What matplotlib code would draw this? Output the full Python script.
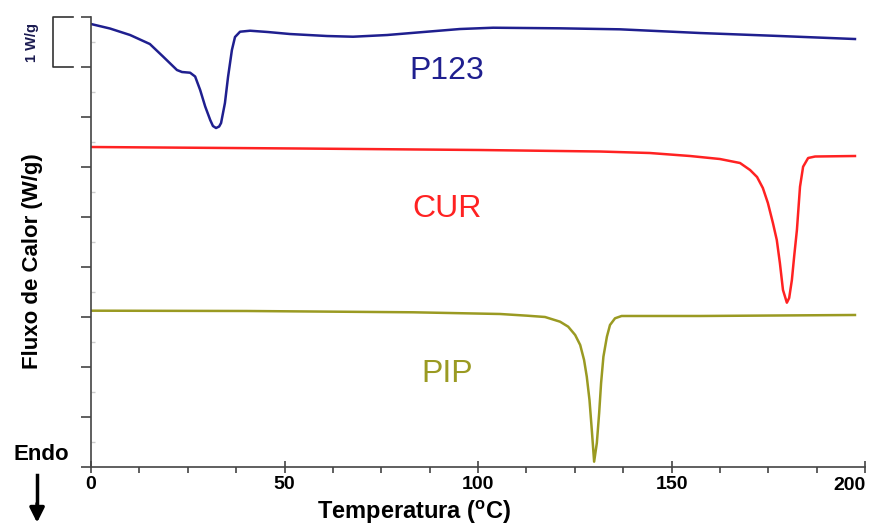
import numpy as np
import matplotlib
matplotlib.use('Agg')
import matplotlib.pyplot as plt
from matplotlib.ticker import MultipleLocator

plt.rcParams['font.family'] = ['Liberation Sans', 'DejaVu Sans']

# DSC curves (temperature in C, heat flow with offsets, W/g)
p123_t = [0, 4.9, 10.1, 15.2, 18.6, 22.2, 23.5, 25.6, 26.9, 28.2, 29.5, 30.8, 31.5,
          32.3, 33.1, 33.6, 34.6, 35.4, 36.4, 37.2, 38.5, 41.1, 45.7, 51.4, 61.0,
          67.7, 76.5, 86.8, 95.3, 103.9, 121.2, 136.7, 157.4, 178.0, 197.4]
p123_y = [8.86, 8.77, 8.64, 8.46, 8.21, 7.94, 7.90, 7.886, 7.81, 7.54, 7.21, 6.94, 6.82,
          6.78, 6.81, 6.88, 7.28, 7.80, 8.34, 8.60, 8.706, 8.726, 8.70, 8.66, 8.62,
          8.606, 8.64, 8.706, 8.76, 8.786, 8.774, 8.754, 8.68, 8.62, 8.56]

cur_t = [0, 54.0, 100.5, 131.5, 144.4, 154.8, 162.5, 165.1, 167.7, 170.3, 172.1, 173.6,
         174.9, 176.2, 177.2, 178.0, 178.8, 179.8, 180.4, 181.1, 181.7, 182.4, 183.2,
         184.0, 185.3, 187.1, 197.4]
cur_y = [6.40, 6.37, 6.34, 6.31, 6.28, 6.22, 6.16, 6.12, 6.08, 5.94, 5.80, 5.58,
         5.28, 4.88, 4.54, 4.08, 3.54, 3.286, 3.38, 3.74, 4.22, 4.74, 5.606,
         6.006, 6.18, 6.21, 6.22]

pip_t = [0, 40.3, 83.2, 105.7, 112.7, 117.3, 121.2, 123.3, 125.1, 126.4, 127.4, 128.1,
         128.8, 129.4, 130.0, 130.7, 131.3, 131.8, 132.4, 133.3, 134.1, 135.4, 137.1,
         157.4, 197.4]
pip_y = [3.126, 3.12, 3.094, 3.06, 3.026, 3.00, 2.906, 2.806, 2.64, 2.44, 2.14, 1.806,
         1.34, 0.74, 0.106, 0.48, 1.08, 1.68, 2.206, 2.606, 2.84, 2.974, 3.02,
         3.02, 3.04]

xticks = [0, 50, 100, 150, 200]
xtick_labels = ['0', '50', '100', '150', '200']

fig = plt.figure(figsize=(8.72, 5.27), dpi=100)
ax = fig.add_axes([0.1044, 0.1139, 0.8876, 0.8538])

ax.plot(p123_t, p123_y, color='#1f1f8f', lw=1.8)
ax.plot(cur_t, cur_y, color='#ff2222', lw=1.8)
ax.plot(pip_t, pip_y, color='#9a9a22', lw=1.8)

ax.text(92, 7.92, 'P123', color='#1f1f8f', fontsize=23, ha='center', va='center')
ax.text(92, 5.16, 'CUR', color='#ff2222', fontsize=23, ha='center', va='center')
ax.text(92, 1.86, 'PIP', color='#9a9a22', fontsize=23, ha='center', va='center')

ax.set_xlim(0, 200)
ax.set_ylim(0, 9)
# last label is drawn by hand, a bit left of its tick, so it stays inside the figure
ax.set_xticks(xticks, xtick_labels[:-1] + [''])
ax.annotate(xtick_labels[-1], xy=(xticks[-1], 0), xytext=(-11, -7.5),
            textcoords='offset points', ha='center', va='top',
            fontsize=14, fontweight='bold', annotation_clip=False)
ax.xaxis.set_minor_locator(MultipleLocator(12.5))
ax.yaxis.set_major_locator(MultipleLocator(1))
ax.yaxis.set_minor_locator(MultipleLocator(0.5))
ax.set_yticklabels([])
for s in ['top', 'right']:
    ax.spines[s].set_visible(False)
for s in ['left', 'bottom']:
    ax.spines[s].set_color('#444444')
    ax.spines[s].set_linewidth(1.2)
ax.tick_params(axis='x', which='major', direction='inout', length=9, width=1.2,
               color='#444444', labelsize=14, pad=2)
ax.tick_params(axis='x', which='minor', direction='out', length=4, width=1.2, color='#444444')
ax.tick_params(axis='y', which='major', direction='out', length=7, width=1.2, color='#444444')
ax.tick_params(axis='y', which='minor', direction='in', length=3, width=1, color='#cccccc')
for lab in ax.get_xticklabels():
    lab.set_fontweight('bold')

ax.set_xlabel('Temperatura ($\\mathregular{^{o}}$C)', fontsize=17, fontweight='bold')
ax.xaxis.set_label_coords(0.417, -0.1)
ax.xaxis.label.set_va('center')
ax.set_ylabel('Fluxo de Calor (W/g)', fontsize=16, fontweight='bold')
ax.yaxis.set_label_coords(-0.075, 0.458)
ax.yaxis.label.set_va('center')

# scale bar 1 W/g
ax.plot([-4.6, -9.8, -9.8, -4.6], [9, 9, 8, 8], color='#333333', lw=1.2, clip_on=False)
ax.text(-15.2, 8.5, '1 W/g', rotation=90, fontsize=10.5, fontweight='bold',
        ha='center', va='center', color='#1a1a50')

# Endo arrow
fig.text(0.047, 0.137, 'Endo', fontsize=16, fontweight='bold', ha='center', va='center')
fig.add_artist(plt.Line2D([0.0425, 0.0425], [0.098, 0.045], color='black', lw=2.5))
ax.annotate('', xy=(0.0425, 0.003), xytext=(0.0425, 0.05), xycoords='figure fraction',
            arrowprops=dict(arrowstyle='-|>', color='black', lw=2.5, mutation_scale=22))

fig.savefig('out.png', dpi=100)
